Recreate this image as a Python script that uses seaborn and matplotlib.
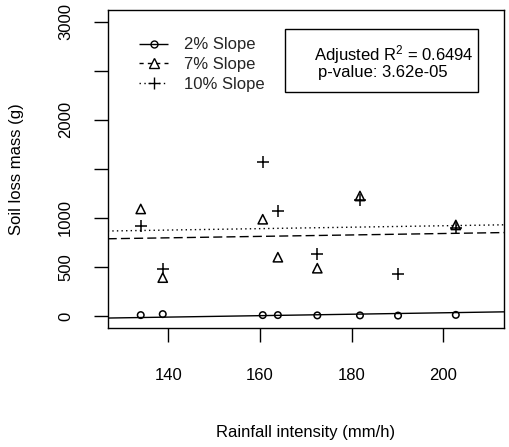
import numpy as np
import pandas as pd
import matplotlib
matplotlib.use("Agg")
import matplotlib.pyplot as plt
from matplotlib.lines import Line2D
from matplotlib.patches import Rectangle
import seaborn as sns

# ---- data ----
intensity = [134.0, 138.8, 160.6, 163.9, 172.5, 181.8, 190.1, 202.7]
slope_2 = [8, 18, 8, 8, 5, 5, 3, 10]
slope_7 = [1090, 390, 985, 598, 486, 1222, np.nan, 927]
slope_10 = [916, 479, 1571, 1069, 628, 1181, 425, 894]
groups = ["2% Slope", "7% Slope", "10% Slope"]
markers = ["o", "^", "+"]
x_ticks = [140, 160, 180, 200]
y_ticks = [0, 500, 1000, 1500, 2000, 2500, 3000]
y_tick_labels = ["0", "500", "1000", "", "2000", "", "3000"]
stats_lines = ["Adjusted R$^2$ = 0.6494", "p-value: 3.62e-05"]

sns.set_theme(style="white")
plt.rcParams["font.family"] = ["Liberation Sans", "DejaVu Sans"]
plt.rcParams["mathtext.fontset"] = "custom"
plt.rcParams["mathtext.rm"] = "Liberation Sans"
plt.rcParams["mathtext.it"] = "Liberation Sans"

FS = 12

df = pd.DataFrame({
    "x": intensity * 3,
    "y": slope_2 + slope_7 + slope_10,
    "g": sum([[g] * len(intensity) for g in groups], []),
}).dropna()

# common-slope linear model: y ~ x + slope group
X = np.column_stack([
    np.ones(len(df)), df["x"].values,
    (df["g"] == groups[1]).astype(float).values,
    (df["g"] == groups[2]).astype(float).values,
])
coef, *_ = np.linalg.lstsq(X, df["y"].values, rcond=None)

fig = plt.figure(figsize=(5.10, 4.47), dpi=100)
ax = fig.add_axes([0.2112, 0.267, 0.777, 0.711])

xlim = (126.8, 213.2)
ylim = (-120, 3120)
ax.set_xlim(*xlim)
ax.set_ylim(*ylim)

styles = [(0, ()), (0, (6.5, 3)), (0, (1, 2.3))]
xs = np.array(xlim)
for i, g in enumerate(groups):
    sub = df[df["g"] == g]
    if g == groups[2]:
        sns.scatterplot(x=sub["x"], y=sub["y"], marker="+", s=70, color="black",
                        linewidth=1.1, ax=ax, legend=False)
    else:
        sns.scatterplot(x=sub["x"], y=sub["y"], marker=markers[i],
                        s=(22 if i == 0 else 45), facecolor="none",
                        edgecolor="black", linewidth=1.1, ax=ax, legend=False)
    off = 0 if i == 0 else coef[1 + i]
    fit = coef[0] + off + coef[1] * xs
    sns.lineplot(x=xs, y=fit, color="black", linewidth=1.0, ax=ax,
                 linestyle=styles[i], legend=False)

ax.set_xlim(*xlim)
ax.set_ylim(*ylim)
ax.set_xticks(x_ticks)
ax.set_xticklabels([str(t) for t in x_ticks])
ax.set_yticks(y_ticks)
ax.set_yticklabels(y_tick_labels, rotation=90, va="center", ha="right")

for s in ax.spines.values():
    s.set_color("black")
    s.set_linewidth(1.0)
    s.set_visible(True)

ax.tick_params(axis="both", which="major", direction="out", length=10,
               width=1.0, color="black", labelsize=FS, labelcolor="black",
               bottom=True, left=True)
ax.tick_params(axis="x", pad=19)
ax.tick_params(axis="y", pad=15)

ax.set_xlabel("Rainfall intensity (mm/h)", fontsize=FS, color="black")
ax.set_ylabel("Soil loss mass (g)", fontsize=FS, color="black")
ax.xaxis.set_label_coords(0.5, -0.305)
ax.yaxis.set_label_coords(-0.21, 0.5)

handles = [
    Line2D([], [], color="black", lw=1.0, linestyle=styles[0], marker="o",
           markersize=5, markerfacecolor="none", markeredgewidth=1.0),
    Line2D([], [], color="black", lw=1.0, linestyle=(0, (3, 3)), marker="^",
           markersize=7, markerfacecolor="none", markeredgewidth=1.0),
    Line2D([], [], color="black", lw=1.0, linestyle=(0, (1, 2.5)), marker="+",
           markersize=8, markeredgewidth=1.0),
]
leg = ax.legend(handles, groups, loc="upper left", bbox_to_anchor=(0.079, 0.913),
                frameon=False, fontsize=FS, handlelength=1.75, handletextpad=0.95,
                labelspacing=0.28, borderpad=0, borderaxespad=0)

ax.add_patch(Rectangle((0.447, 0.743), 0.487, 0.196, transform=ax.transAxes,
                       fill=False, edgecolor="black", linewidth=1.0))
ax.text(0.521, 0.858, stats_lines[0], transform=ax.transAxes, fontsize=FS,
        ha="left", va="center", color="black")
ax.text(0.531, 0.803, stats_lines[1], transform=ax.transAxes, fontsize=FS,
        ha="left", va="center", color="black")

fig.savefig("out.png", dpi=100, facecolor="white")
